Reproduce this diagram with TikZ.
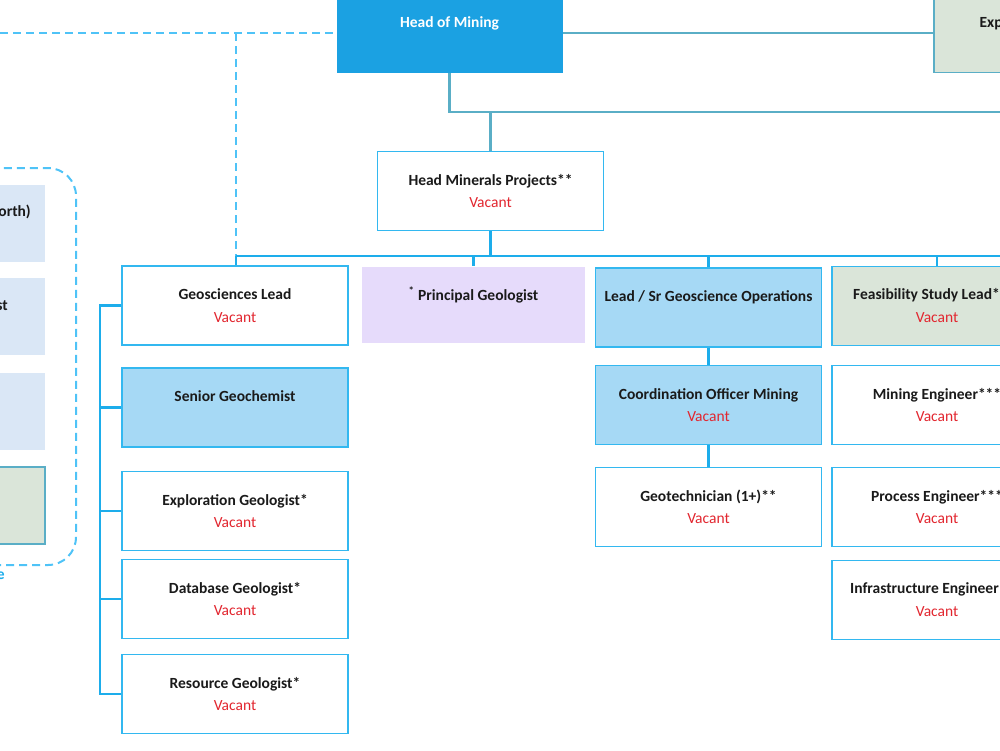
\documentclass[tikz,border=0pt]{standalone}
\usepackage{fontspec}
\setmainfont{Carlito}
\definecolor{homfill}{HTML}{1BA1E2}
\definecolor{lbfill}{HTML}{A6D9F5}
\definecolor{lavfill}{HTML}{E6DBFB}
\definecolor{ggfill}{HTML}{DAE5D9}
\definecolor{legfill}{HTML}{DAE7F6}
\definecolor{blueln}{HTML}{1DADEB}
\definecolor{bordln}{HTML}{33B8F0}
\definecolor{tealln}{HTML}{5AAEC6}
\definecolor{dashln}{HTML}{4FC3F7}
\definecolor{vacred}{HTML}{E2262F}
\definecolor{txt}{HTML}{1A1A1A}
\newcommand{\vac}{\mdseries\textcolor{vacred}{Vacant}}
\tikzset{
  box/.style={draw=bordln, line width=1.8pt, fill=white, minimum width=226pt, minimum height=79pt,
    align=center, text=txt, font=\fontsize{15.5}{22.5}\selectfont\bfseries, inner sep=0pt},
  lbbox/.style={box, fill=lbfill},
  ggbox/.style={box, fill=ggfill, draw=tealln},
  homb/.style={box, fill=homfill, draw=none, text=white},
  lavbox/.style={box, fill=lavfill, draw=none},
  legbox/.style={draw=none, fill=legfill, minimum width=120pt, minimum height=77pt, inner sep=0pt},
  rtitle/.style={anchor=west, inner sep=0pt, text=txt, font=\fontsize{15.5}{18}\selectfont\bfseries},
  blueline/.style={draw=blueln, line width=2.6pt},
  tealline/.style={draw=tealln, line width=2.6pt},
  dashline/.style={draw=dashln, line width=2pt, dash pattern=on 8pt off 5pt},
}
\begin{document}
\begin{tikzpicture}[x=1pt, y=-1pt]
\useasboundingbox (0,0) rectangle (1000,750);
\clip (0,0) rectangle (1000,750);
% legend
\draw[dashline, rounded corners=28pt] (-40,168) rectangle (76,565);
\node[legbox] (lg1) at (-15,223.5) {};
\node[legbox] (lg2) at (-15,316) {};
\node[legbox] (lg3) at (-15,411) {};
\node[legbox, fill=ggfill, draw=tealln, line width=1.5pt] (lg4) at (-15,505.5) {};
\node[anchor=east, font=\fontsize{15.5}{18}\selectfont\bfseries, text=txt, inner sep=0pt] (lt1) at (31,212) {Geologist (North)};
\node[anchor=east, font=\fontsize{15.5}{18}\selectfont\bfseries, text=txt, inner sep=0pt] (lt2) at (8,306) {Geologist};
\node[anchor=east, font=\fontsize{15.5}{18}\selectfont\bfseries, text=blueln, inner sep=0pt] (lt3) at (5,576) {e};
% top
\node[homb] (hom) at (449.5,33) {Head of Mining\\\phantom{Vacant}};
\node[ggbox] (expl) at (1047,33) {Exploration Manager\\\phantom{Vacant}};
\node[box] (hmp) at (490.5,191) {Head Minerals Projects**\\\vac};
% second row
\node[box] (gl) at (235,305.5) {Geosciences Lead\\\vac};
\node[lavbox, minimum width=223pt, minimum height=76pt] (pg) at (473.5,305) {\textsuperscript{*} Principal Geologist\\\phantom{Vacant}};
\node[lbbox] (ls) at (708.5,307.5) {Lead / Sr Geoscience Operations\\\phantom{Vacant}};
\node[box, fill=ggfill, minimum width=210pt] (fs) at (937,306) {\phantom{X}\\\vac};
\node[rtitle] (fst) at (853,295) {Feasibility Study Lead**};
% left column
\node[lbbox] (sg) at (235,407.5) {Senior Geochemist\\\phantom{Vacant}};
\node[box] (eg) at (235,511) {Exploration Geologist*\\\vac};
\node[box] (dg) at (235,599) {Database Geologist*\\\vac};
\node[box] (rg) at (235,694) {Resource Geologist*\\\vac};
% middle column
\node[lbbox] (co) at (708.5,405) {Coordination Officer Mining\\\vac};
\node[box] (gt) at (708.5,507) {Geotechnician (1+)**\\\vac};
% right column
\node[box, minimum width=210pt] (me) at (937,405) {Mining Engineer***\\\vac};
\node[box, minimum width=210pt] (pe) at (937,507) {Process Engineer***\\\vac};
\node[box, minimum width=210pt] (ie) at (937,600) {\phantom{X}\\\vac};
\node[rtitle] (iet) at (850,589) {Infrastructure Engineer***};
% coordinates
\coordinate (dashL) at (0,33);
\coordinate (tealR) at (1000,112);
\coordinate (barL) at (236,256);
\coordinate (barR) at (1000,256);
\coordinate (lt) at (100,305);
% connectors
\draw[dashline] (dashL) -- (hom.west);
\draw[dashline] (barL |- hom.west) -- (barL);
\draw[tealline] (hom.east) -- (expl.west);
\draw[tealline] (hom.south) |- (tealR);
\draw[tealline] (hmp.north) -- (hmp.north |- tealR);
\draw[blueline] (barL) -- (barR);
\draw[blueline] (hmp.south) -- (hmp.south |- barL);
\draw[blueline] (barL) -- (gl.north -| barL);
\draw[blueline] (pg.north |- barL) -- (pg.north);
\draw[blueline] (ls.north |- barL) -- (ls.north);
\draw[blueline] (fs.north |- barL) -- (fs.north);
\draw[blueline] (gl.west) -- (gl.west -| lt) -- (rg.west -| lt) -- (rg.west);
\draw[blueline] (sg.west -| lt) -- (sg.west);
\draw[blueline] (eg.west -| lt) -- (eg.west);
\draw[blueline] (dg.west -| lt) -- (dg.west);
\draw[blueline] (ls.south) -- (co.north);
\draw[blueline] (co.south) -- (gt.north);
\end{tikzpicture}
\end{document}
